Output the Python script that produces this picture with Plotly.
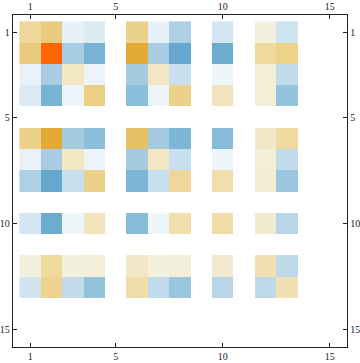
import plotly.graph_objects as go

# Matrix (15x15), rows/cols indexed 1..15; only listed rows/cols are non-zero
active = [1, 2, 3, 4, 6, 7, 8, 10, 12, 13]
row_values = {
    1:  [0.18, 0.28, -0.07, -0.10, 0.22, -0.07, -0.25, -0.13, 0.05, -0.15],
    2:  [0.27, 1.00, -0.27, -0.42, 0.50, -0.27, -0.48, -0.46, 0.17, 0.21],
    3:  [-0.06, -0.27, 0.10, -0.05, -0.28, 0.10, -0.17, -0.04, 0.06, -0.19],
    4:  [-0.10, -0.42, -0.05, 0.24, -0.35, -0.05, 0.22, 0.11, 0.06, -0.33],
    6:  [0.22, 0.50, -0.28, -0.35, 0.33, -0.28, -0.40, -0.37, 0.09, 0.16],
    7:  [-0.06, -0.27, 0.10, -0.05, -0.28, 0.10, -0.17, -0.04, 0.06, -0.19],
    8:  [-0.25, -0.48, -0.17, 0.22, -0.40, -0.17, 0.18, 0.14, 0.07, -0.31],
    10: [-0.13, -0.46, -0.04, 0.11, -0.37, -0.04, 0.14, 0.15, 0.08, -0.22],
    12: [0.05, 0.17, 0.05, 0.06, 0.09, 0.05, 0.06, 0.08, 0.13, -0.20],
    13: [-0.14, 0.20, -0.19, -0.33, 0.15, -0.19, -0.31, -0.22, -0.20, 0.13],
}
n = 15
tick_vals = [1, 5, 10, 15]
tick_text = ["1", "5", "10", "15"]

Z = [[0.0] * n for _ in range(n)]
for r, vals in row_values.items():
    for c, v in zip(active, vals):
        Z[r - 1][c - 1] = v

# value -> colour stops (approximating Mathematica's MatrixPlot scheme)
stops = [
    (-1.00, "#3A7DB5"), (-0.48, "#66A8CD"), (-0.42, "#77B3D4"), (-0.35, "#8CBFDB"),
    (-0.27, "#A8CDE2"), (-0.20, "#BED9EA"), (-0.15, "#CFE3EF"), (-0.10, "#DCEAF3"),
    (-0.04, "#EFF6FA"), (0.0, "#FFFFFF"), (0.05, "#F3F1DE"), (0.10, "#F2E6C3"),
    (0.15, "#F0DDA7"), (0.20, "#EDD38E"), (0.28, "#EACA7C"), (0.33, "#E8C167"),
    (0.50, "#E3AA37"), (1.00, "#FF6600"),
]
colorscale = [[(v + 1) / 2, c] for v, c in stops]

xs = list(range(1, n + 1))
fig = go.Figure()
fig.add_trace(go.Heatmap(z=Z, x=xs, y=xs, colorscale=colorscale, zmin=-1, zmax=1,
                         showscale=False, hoverinfo="skip"))
fig.add_trace(go.Scatter(x=[None], y=[None], xaxis="x2", yaxis="y2", showlegend=False))

rng = [0.2, 15.8]
font = dict(family="Liberation Serif", size=10, color="#222")
common = dict(tickvals=tick_vals, ticktext=tick_text, ticks="inside", ticklen=4,
              tickcolor="#222", tickwidth=1, showgrid=False, zeroline=False,
              showline=True, linecolor="#222", linewidth=1.3, tickfont=font,
              automargin=False)
fig.update_layout(
    width=360, height=363, margin=dict(l=13, r=13, t=15, b=16),
    paper_bgcolor="white", plot_bgcolor="white", showlegend=False,
    xaxis=dict(range=rng, side="bottom", **common),
    yaxis=dict(range=rng[::-1], side="left", **common),
    xaxis2=dict(range=rng, side="top", overlaying="x", **common),
    yaxis2=dict(range=rng[::-1], side="right", overlaying="y", **common),
)
fig.write_html("out.html", config={"displayModeBar": False},
               post_script="document.body.style.margin='0';document.body.style.overflow='hidden';")
